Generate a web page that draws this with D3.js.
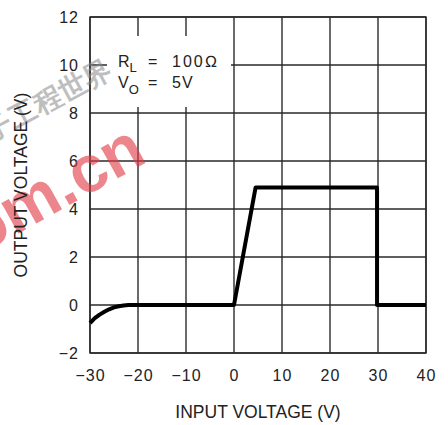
<!DOCTYPE html>
<html>
<head>
<meta charset="utf-8">
<script src="https://cdn.jsdelivr.net/npm/d3@7"></script>
<style>
body { margin: 0; background: #fff; }
text { font-family: "Liberation Sans", Arial, sans-serif; fill: #222; }
</style>
</head>
<body>
<svg></svg>
<script>
var xTicks = [-30, -20, -10, 0, 10, 20, 30, 40];
var yTicks = [-2, 0, 2, 4, 6, 8, 10, 12];
// output vs input voltage
var inputV  = [-30, -29, -28, -27, -26, -25, -24, -23, -22, 0, 4.5, 29.8, 29.8, 40];
var outputV = [-0.75, -0.55, -0.4, -0.28, -0.18, -0.1, -0.05, -0.02, 0, 0, 4.9, 4.9, 0, 0];

function drawChart() {
var svgWidth = 448, svgHeight = 425;
var margin = { top: 17, right: 22, bottom: 72, left: 90 };
var width = svgWidth - margin.left - margin.right;
var height = svgHeight - margin.top - margin.bottom;

var svg = d3.select('svg')
    .attr("width", svgWidth)
    .attr("height", svgHeight);

var g = svg.append("g")
    .attr("transform", "translate(" + margin.left + "," + margin.top + ")");

var x = d3.scaleLinear().domain([-30, 40]).range([0, width]);
var y = d3.scaleLinear().domain([-2, 12]).range([height, 0]);

var fmt = function(d) { return d < 0 ? "\u2212" + Math.abs(d) : d; };

// grid
g.selectAll(".vgrid").data(xTicks).enter().append("line")
    .attr("x1", function(d) { return x(d); })
    .attr("x2", function(d) { return x(d); })
    .attr("y1", 0).attr("y2", height)
    .attr("stroke", "#2a2a2a").attr("stroke-width", 1.4);
g.selectAll(".hgrid").data(yTicks).enter().append("line")
    .attr("y1", function(d) { return y(d); })
    .attr("y2", function(d) { return y(d); })
    .attr("x1", 0).attr("x2", width)
    .attr("stroke", "#2a2a2a").attr("stroke-width", 1.4);

// white box behind the legend
g.append("rect")
    .attr("x", 17).attr("y", 19)
    .attr("width", 124).attr("height", 71)
    .attr("fill", "#fff");

g.append("rect")
    .attr("width", width).attr("height", height)
    .attr("fill", "none")
    .attr("stroke", "#2a2a2a").attr("stroke-width", 1.4);

// watermark (semi transparent, under the labels)
svg.append("text")
    .attr("transform", "translate(114,76) rotate(-28)")
    .attr("text-anchor", "end")
    .attr("font-size", 28)
    .attr("font-weight", "bold")
    .attr("font-family", "Noto Sans CJK SC")
    .style("fill", "#8a8a8a")
    .attr("opacity", 0.55)
    .text("电子工程世界");

svg.append("text")
    .attr("transform", "translate(149,161) rotate(-29)")
    .attr("text-anchor", "end")
    .attr("font-size", 66)
    .attr("font-weight", "bold")
    .attr("font-family", "Liberation Sans, Arial, sans-serif")
    .style("fill", "#e23c46")
    .attr("opacity", 0.62)
    .text("eeworld.com.cn");

// tick labels
g.append("g")
    .attr("transform", "translate(0," + height + ")")
    .call(d3.axisBottom(x).tickValues(xTicks).tickSize(0).tickPadding(17).tickFormat(fmt))
    .call(function(a) { a.select(".domain").remove(); })
    .selectAll("text")
    .attr("font-size", 16).attr("fill", "#222")
    .attr("letter-spacing", 1)
    .attr("font-family", "Liberation Sans, Arial, sans-serif");

g.append("g")
    .call(d3.axisLeft(y).tickValues(yTicks).tickSize(0).tickPadding(11).tickFormat(fmt))
    .call(function(a) { a.select(".domain").remove(); })
    .selectAll("text")
    .attr("font-size", 16).attr("fill", "#222")
    .attr("letter-spacing", 1)
    .attr("font-family", "Liberation Sans, Arial, sans-serif");

// curve
var line = d3.line()
    .x(function(d) { return x(d[0]); })
    .y(function(d) { return y(d[1]); });

g.append("path")
    .datum(d3.zip(inputV, outputV))
    .attr("fill", "none")
    .attr("stroke", "#000")
    .attr("stroke-width", 4)
    .attr("stroke-linejoin", "round")
    .attr("d", line);

// legend
var leg = g.append("text").attr("font-size", 16).attr("x", 28).attr("y", 50);
leg.append("tspan").text("R");
leg.append("tspan").attr("font-size", 13).attr("dy", 5).text("L");
leg.append("tspan").attr("x", 58).attr("dy", -5).text("=");
leg.append("tspan").attr("x", 82).attr("letter-spacing", 2).text("100\u2126");

var leg2 = g.append("text").attr("font-size", 16).attr("x", 28).attr("y", 71);
leg2.append("tspan").text("V");
leg2.append("tspan").attr("font-size", 13).attr("dy", 6).text("O");
leg2.append("tspan").attr("x", 58).attr("dy", -6).text("=");
leg2.append("tspan").attr("x", 82).attr("letter-spacing", 1).text("5V");

// axis titles
svg.append("text")
    .attr("x", margin.left + x(5))
    .attr("y", 418)
    .attr("text-anchor", "middle")
    .attr("font-size", 17.5)
    .text("INPUT VOLTAGE (V)");

svg.append("text")
    .attr("transform", "translate(27," + (margin.top + height / 2) + ") rotate(-90)")
    .attr("text-anchor", "middle")
    .attr("font-size", 17.5)
    .text("OUTPUT VOLTAGE (V)");
}

drawChart();
</script>
</body>
</html>
